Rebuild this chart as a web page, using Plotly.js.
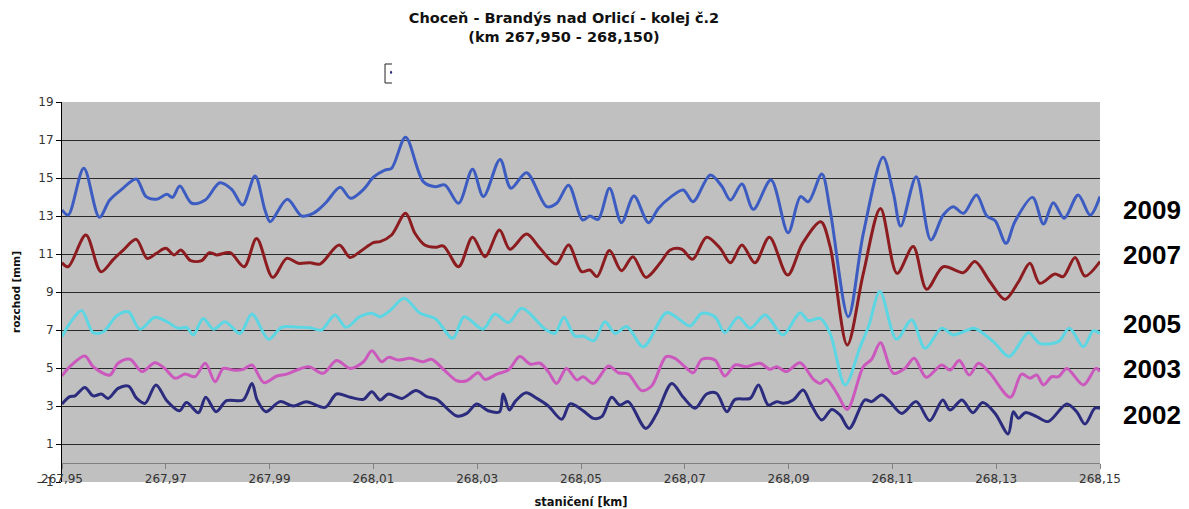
<!DOCTYPE html>
<html>
<head>
<meta charset="utf-8">
<script src="https://cdn.plot.ly/plotly-3.0.1.min.js"></script>
<style>html,body{margin:0;padding:0;background:#fff;}#chart{width:1189px;height:509px;}</style>
</head>
<body>
<div id="chart"></div>
<script>
// staničení [km] and rozchod [mm] per year
const km2009 = [267.9500,267.9512,267.9542,267.9572,267.9592,267.9615,267.9643,267.9662,267.9682,267.9702,267.9713,267.9727,267.9750,267.9776,267.9804,267.9827,267.9848,267.9872,267.9891,267.9901,267.9934,267.9962,267.9984,267.9997,268.0010,268.0036,268.0056,268.0081,268.0100,268.0122,268.0135,268.0162,268.0196,268.0219,268.0238,268.0264,268.0291,268.0312,268.0344,268.0365,268.0395,268.0434,268.0453,268.0476,268.0503,268.0517,268.0533,268.0555,268.0578,268.0602,268.0630,268.0649,268.0672,268.0697,268.0716,268.0749,268.0771,268.0788,268.0810,268.0832,268.0866,268.0899,268.0923,268.0938,268.0964,268.0980,268.1015,268.1044,268.1082,268.1102,268.1116,268.1146,268.1174,268.1198,268.1217,268.1237,268.1262,268.1282,268.1298,268.1319,268.1336,268.1370,268.1391,268.1410,268.1431,268.1458,268.1481,268.1500];
const r2009 = [13.32,13.05,15.51,12.93,13.84,14.40,14.95,14.02,13.88,14.14,13.98,14.58,13.67,13.84,14.75,14.40,13.58,15.11,13.32,12.70,13.88,13.00,13.14,13.40,13.75,14.51,13.93,14.40,15.04,15.42,15.51,17.14,14.81,14.54,14.63,13.67,15.46,14.02,15.98,14.46,15.28,13.49,13.67,14.62,12.79,13.00,12.82,14.46,12.65,14.05,12.65,13.40,13.98,14.37,13.75,15.16,14.58,13.84,14.68,13.35,14.89,12.12,14.02,13.75,15.21,13.30,7.70,12.09,16.09,14.19,12.47,15.07,11.74,13.05,13.49,13.14,14.11,13.00,12.75,11.56,12.70,13.98,12.58,13.70,12.88,14.11,13.05,14.02];

const km2007 = [267.9500,267.9512,267.9546,267.9575,267.9599,267.9618,267.9643,267.9664,267.9682,267.9700,267.9716,267.9729,267.9748,267.9769,267.9784,267.9798,267.9824,267.9851,267.9875,267.9906,267.9933,267.9955,267.9978,267.9997,268.0034,268.0055,268.0074,268.0100,268.0113,268.0135,268.0162,268.0180,268.0199,268.0219,268.0235,268.0264,268.0291,268.0315,268.0343,268.0363,268.0395,268.0421,268.0452,268.0476,268.0501,268.0517,268.0531,268.0555,268.0578,268.0600,268.0625,268.0652,268.0672,268.0694,268.0715,268.0742,268.0768,268.0788,268.0810,268.0835,268.0863,268.0898,268.0927,268.0962,268.0980,268.1013,268.1044,268.1077,268.1109,268.1140,268.1166,268.1198,268.1237,268.1259,268.1288,268.1317,268.1343,268.1365,268.1384,268.1413,268.1429,268.1452,268.1471,268.1500];
const r2007 = [10.54,10.33,12.00,10.07,10.72,11.21,11.77,10.77,11.04,11.30,10.95,11.21,10.65,10.65,11.07,10.95,11.07,10.33,11.82,9.77,10.77,10.51,10.54,10.47,11.47,10.82,11.12,11.60,11.65,12.00,13.14,12.09,11.47,11.35,11.42,10.33,11.88,10.86,12.26,11.25,12.05,11.30,10.47,11.47,10.07,10.16,9.81,11.18,10.12,10.86,9.77,10.51,11.21,11.25,10.72,11.88,11.30,10.54,11.47,10.54,11.88,9.89,11.56,12.70,11.39,6.21,9.98,13.40,9.98,11.39,9.14,10.33,10.02,10.60,9.54,8.61,9.54,10.51,9.46,9.95,9.81,10.82,9.84,10.60];

const km2005 = [267.9500,267.9515,267.9538,267.9560,267.9580,267.9605,267.9628,267.9650,267.9679,267.9702,267.9724,267.9740,267.9753,267.9772,267.9792,267.9814,267.9843,267.9866,267.9898,267.9923,267.9959,267.9978,268.0000,268.0026,268.0047,268.0074,268.0097,268.0113,268.0132,268.0159,268.0190,268.0219,268.0253,268.0275,268.0311,268.0334,268.0360,268.0386,268.0431,268.0450,268.0467,268.0488,268.0504,268.0525,268.0546,268.0566,268.0588,268.0620,268.0664,268.0684,268.0710,268.0733,268.0758,268.0777,268.0803,268.0826,268.0855,268.0889,268.0922,268.0938,268.0961,268.0980,268.1009,268.1038,268.1054,268.1076,268.1108,268.1137,268.1163,268.1195,268.1217,268.1237,268.1257,268.1275,268.1298,268.1325,268.1362,268.1384,268.1420,268.1441,268.1468,268.1487,268.1500];
const r2005 = [6.65,7.35,8.02,6.86,6.91,7.74,7.96,7.04,7.67,7.44,7.09,7.14,6.74,7.61,7.04,7.44,6.82,7.84,6.51,7.14,7.14,7.12,7.00,7.79,7.14,7.70,7.88,7.70,8.02,8.67,7.88,7.61,6.56,7.70,7.04,7.84,7.39,8.14,7.04,6.82,7.67,6.68,6.68,6.44,7.44,6.82,7.18,6.12,7.91,7.67,7.21,7.88,7.70,6.86,7.67,7.09,7.79,6.74,7.91,7.49,7.61,6.82,4.10,6.12,7.18,9.02,6.51,7.53,6.04,7.09,6.74,6.91,7.09,6.82,6.30,5.60,6.86,6.30,6.39,7.09,6.12,6.96,6.82];

const km2003 = [267.9500,267.9515,267.9544,267.9560,267.9592,267.9608,267.9631,267.9654,267.9679,267.9698,267.9718,267.9737,267.9756,267.9776,267.9795,267.9811,267.9830,267.9849,267.9866,267.9889,267.9914,267.9933,267.9975,268.0003,268.0029,268.0055,268.0081,268.0097,268.0116,268.0129,268.0148,268.0171,268.0196,268.0212,268.0235,268.0261,268.0280,268.0302,268.0315,268.0338,268.0360,268.0382,268.0402,268.0421,268.0437,268.0453,268.0472,268.0492,268.0504,268.0524,268.0553,268.0572,268.0591,268.0617,268.0636,268.0664,268.0681,268.0700,268.0716,268.0733,268.0758,268.0777,268.0797,268.0819,268.0845,268.0864,268.0877,268.0896,268.0922,268.0948,268.0961,268.0973,268.0993,268.1013,268.1044,268.1060,268.1077,268.1102,268.1124,268.1142,268.1165,268.1195,268.1211,268.1229,268.1248,268.1266,268.1288,268.1327,268.1349,268.1365,268.1378,268.1391,268.1407,268.1420,268.1436,268.1468,268.1492,268.1500];
const r2003 = [4.58,5.07,5.63,5.07,4.63,5.25,5.46,4.81,5.28,4.98,4.46,4.68,4.54,5.25,4.28,4.98,4.89,4.93,5.16,4.23,4.58,4.68,5.07,4.72,5.39,4.98,5.33,5.91,5.33,5.56,5.42,5.51,5.33,5.46,4.93,4.33,4.33,4.75,4.40,4.68,4.89,5.60,5.21,5.25,4.81,4.19,4.98,4.37,4.54,4.19,5.11,4.75,4.68,3.81,4.05,5.60,5.51,5.07,4.75,5.46,5.42,4.58,5.16,5.07,5.25,4.93,5.07,4.81,5.28,4.40,4.19,4.40,3.67,2.82,5.07,5.46,6.33,4.72,4.98,5.51,4.51,5.16,4.89,5.39,4.63,5.25,4.72,3.46,4.68,4.46,4.63,4.11,4.54,4.54,4.98,4.11,4.98,4.81];

const km2002 = [267.9500,267.9515,267.9525,267.9544,267.9560,267.9576,267.9589,267.9608,267.9628,267.9644,267.9660,267.9681,267.9702,267.9726,267.9740,267.9763,267.9777,267.9797,267.9817,267.9849,267.9866,267.9876,267.9893,267.9920,267.9946,267.9971,268.0007,268.0029,268.0055,268.0081,268.0097,268.0113,268.0129,268.0155,268.0182,268.0203,268.0222,268.0261,268.0280,268.0299,268.0321,268.0343,268.0350,268.0362,268.0373,268.0394,268.0415,268.0437,268.0463,268.0479,268.0504,268.0524,268.0540,268.0559,268.0575,268.0591,268.0625,268.0646,268.0675,268.0697,268.0720,268.0742,268.0761,268.0781,268.0797,268.0826,268.0842,268.0861,268.0877,268.0890,268.0909,268.0928,268.0943,268.0964,268.0983,268.0999,268.1017,268.1047,268.1060,268.1079,268.1095,268.1118,268.1146,268.1172,268.1197,268.1211,268.1234,268.1255,268.1274,268.1298,268.1323,268.1333,268.1343,268.1356,268.1378,268.1400,268.1436,268.1455,268.1471,268.1490,268.1500];
const r2002 = [3.11,3.49,3.53,3.98,3.53,3.63,3.40,3.93,4.05,3.40,3.14,4.11,3.28,2.75,3.18,2.65,3.46,2.70,3.28,3.32,4.19,3.32,2.70,3.23,3.00,3.23,2.93,3.63,3.46,3.35,3.75,3.32,3.63,3.40,3.81,3.49,3.35,2.47,2.61,3.11,2.75,2.70,3.63,2.79,3.23,3.70,3.40,3.00,2.30,3.11,2.75,2.35,2.44,3.46,3.05,3.23,1.82,2.61,4.19,3.46,2.88,3.63,3.67,2.70,3.35,3.40,4.11,3.05,3.23,3.14,3.32,3.84,3.10,2.26,2.82,2.53,1.82,3.32,3.23,3.58,3.23,2.61,3.23,2.23,3.32,2.79,3.32,2.65,3.18,2.61,1.53,2.70,2.35,2.65,2.44,2.18,3.11,2.70,2.05,2.88,2.88];

const years = ['2009','2007','2005','2003','2002'];
const xTickVals = [267.95,267.97,267.99,268.01,268.03,268.05,268.07,268.09,268.11,268.13,268.15];
const xTickText = ['267,95','267,97','267,99','268,01','268,03','268,05','268,07','268,09','268,11','268,13','268,15'];
const yTickVals = [-1,1,3,5,7,9,11,13,15,17,19];

const seriesX = [km2009, km2007, km2005, km2003, km2002];
const seriesY = [r2009, r2007, r2005, r2003, r2002];
const colors = ['#3C5CC2','#8C1C1F','#5CD6E3','#CB58BD','#2C2C7E'];

const WIDE = '"DejaVu Sans", "Liberation Sans", Arial, sans-serif';
const ARIAL = '"Liberation Sans", Arial, sans-serif';

const traces = seriesX.map((xs, i) => ({
  type: 'scatter', mode: 'lines', name: years[i],
  x: xs, y: seriesY[i],
  line: {color: colors[i], width: 3, shape: 'spline', smoothing: 0.9},
  showlegend: false, hoverinfo: 'x+y'
}));
// carrier trace for the axis line drawn at y = 0
traces.push({type: 'scatter', mode: 'lines', x: [], y: [], xaxis: 'x2', yaxis: 'y', showlegend: false, hoverinfo: 'skip'});

const labelY = [13.33, 10.95, 7.32, 4.95, 2.53];
const annotations = years.map((t, i) => ({
  text: '<b>' + t + '</b>', xref: 'paper', yref: 'y', x: 1.05, y: labelY[i],
  showarrow: false, xanchor: 'center', yanchor: 'middle',
  font: {family: ARIAL, size: 26, color: '#000'}
}));

const layout = {
  width: 1189, height: 509,
  margin: {l: 62, r: 89, t: 102, b: 27},
  paper_bgcolor: '#ffffff', plot_bgcolor: '#C0C0C0',
  showlegend: false,
  font: {family: WIDE, size: 12, color: '#333'},
  title: {
    text: '<b>Choceň - Brandýs nad Orlicí - kolej č.2<br>(km 267,950 - 268,150)</b>',
    font: {family: WIDE, size: 14.5, color: '#111'},
    xref: 'paper', x: 0.4836, xanchor: 'center',
    yref: 'container', y: 0.955, yanchor: 'top'
  },
  xaxis: {
    range: [267.95, 268.15], tickvals: xTickVals, ticktext: xTickText,
    showgrid: false, zeroline: false, showline: false, ticks: '',
    ticklabelstandoff: -12,
    tickfont: {family: WIDE, size: 12, color: '#333'},
    title: {text: '<b>staničení [km]</b>', font: {family: WIDE, size: 11.5, color: '#111'}, standoff: 12}
  },
  xaxis2: {
    range: [267.95, 268.15], tickvals: xTickVals, overlaying: 'x', anchor: 'free', position: 0.05,
    showticklabels: false, showgrid: false, zeroline: false,
    showline: true, linecolor: '#808080', linewidth: 1,
    ticks: 'outside', ticklen: 5, tickcolor: '#808080', tickwidth: 1
  },
  yaxis: {
    range: [-1, 19], tickvals: yTickVals,
    showgrid: true, gridcolor: '#2a2a2a', gridwidth: 1,
    zeroline: false,
    showline: true, linecolor: '#000', linewidth: 1,
    ticks: 'outside', ticklen: 5, tickcolor: '#000',
    tickfont: {family: WIDE, size: 12, color: '#333'},
    title: {text: '<b>rozchod [mm]</b>', font: {family: WIDE, size: 10.5, color: '#111'}, standoff: 13}
  },
  annotations: annotations,
  shapes: [
    {type: 'path', xref: 'paper', yref: 'paper',
     path: 'M 0.3179,1.1 L 0.3112,1.1 L 0.3112,1.05 L 0.3179,1.05',
     line: {color: '#222', width: 1}},
    {type: 'circle', xref: 'paper', yref: 'paper', x0: 0.3160, x1: 0.3180, y0: 1.074, y1: 1.082,
     fillcolor: '#2C2C7E', line: {width: 0}}
  ]
};

Plotly.newPlot('chart', traces, layout, {displayModeBar: false, staticPlot: true});
</script>
</body>
</html>
